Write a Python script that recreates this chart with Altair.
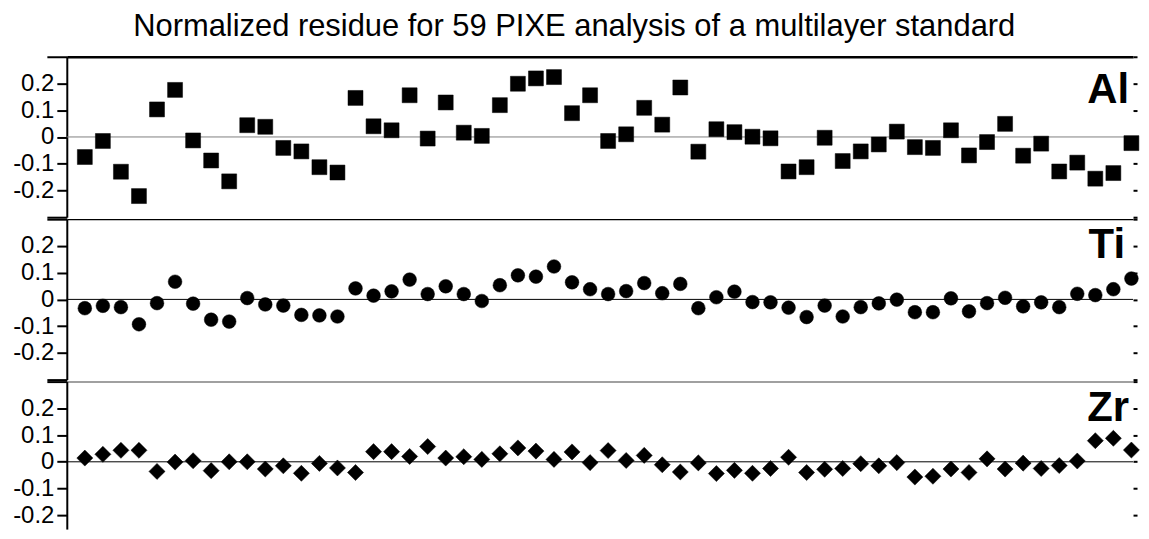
import altair as alt
import pandas as pd

idx = list(range(1, 60))

al = [-0.075, -0.015, -0.13, -0.221, 0.103, 0.176, -0.013, -0.088, -0.166, 0.044,
      0.038, -0.041, -0.054, -0.113, -0.133, 0.146, 0.04, 0.025, 0.156, -0.006,
      0.129, 0.016, 0.004, 0.119, 0.199, 0.219, 0.224, 0.089, 0.156, -0.015,
      0.01, 0.109, 0.046, 0.185, -0.055, 0.029, 0.018, 0.001, -0.005, -0.129,
      -0.113, -0.003, -0.09, -0.054, -0.028, 0.02, -0.038, -0.041, 0.025, -0.069,
      -0.019, 0.049, -0.07, -0.025, -0.129, -0.096, -0.156, -0.135, -0.023]

ti = [-0.033, -0.024, -0.029, -0.093, -0.014, 0.066, -0.016, -0.076, -0.083, 0.005,
      -0.019, -0.023, -0.058, -0.06, -0.064, 0.041, 0.014, 0.03, 0.074, 0.02,
      0.049, 0.02, -0.006, 0.053, 0.09, 0.085, 0.123, 0.064, 0.038, 0.02,
      0.031, 0.061, 0.023, 0.058, -0.033, 0.008, 0.029, -0.01, -0.011, -0.031,
      -0.066, -0.023, -0.064, -0.029, -0.015, -0.001, -0.048, -0.048, 0.004, -0.045,
      -0.014, 0.006, -0.026, -0.011, -0.029, 0.021, 0.016, 0.038, 0.078]

zr = [0.014, 0.028, 0.043, 0.043, -0.036, -0.001, 0.004, -0.033, 0.0, 0.0,
      -0.027, -0.015, -0.043, -0.006, -0.023, -0.04, 0.038, 0.038, 0.02, 0.057,
      0.014, 0.019, 0.009, 0.03, 0.052, 0.04, 0.009, 0.037, -0.003, 0.042,
      0.005, 0.024, -0.011, -0.038, -0.004, -0.044, -0.032, -0.043, -0.025, 0.017,
      -0.04, -0.028, -0.025, -0.007, -0.015, -0.003, -0.057, -0.054, -0.027, -0.04,
      0.011, -0.027, -0.005, -0.025, -0.014, 0.003, 0.079, 0.088, 0.044]

elements = ["Al", "Ti", "Zr"]
tick_values = [-0.3, -0.2, -0.1, 0, 0.1, 0.2, 0.3]

W = 1070
H = 161
H3 = 148
FONT = "Liberation Sans"

xscale = alt.Scale(domain=[0, 59.09], nice=False, zero=False)


def panel(values, label, shape, size, lx, ly, top_width, top_color, zero_color,
          height=H, ymin=-0.3):
    yscale = alt.Scale(domain=[ymin, 0.3], nice=False, zero=False)
    tv = [t for t in tick_values if t >= ymin - 1e-9]
    df = pd.DataFrame({"n": idx, "v": values})
    points = alt.Chart(df).mark_point(
        shape=shape, filled=True, size=size, color="black", opacity=1,
        stroke="black", strokeWidth=0.5
    ).encode(
        x=alt.X("n:Q", scale=xscale,
                axis=alt.Axis(orient="top", labels=False, ticks=False, grid=False,
                              title=None, domainColor=top_color, domainWidth=top_width,
                              minExtent=0, maxExtent=0)),
        y=alt.Y("v:Q", scale=yscale,
                axis=alt.Axis(orient="left", values=tv, title=None, grid=False,
                              labelExpr="abs(datum.value) > 0.25 ? '' : toString(datum.value)",
                              labelFont=FONT, labelFontSize=24, labelColor="black",
                              labelPadding=3,
                              domainColor="black", domainWidth=2,
                              tickColor="black", tickWidth=2,
                              tickSize={"condition": {"test": "abs(datum.value) > 0.25", "value": 20},
                                        "value": 10},
                              minExtent=59, maxExtent=59)),
    )
    zero = alt.Chart(pd.DataFrame({"z": [0]})).mark_rule(
        color=zero_color, strokeWidth=1
    ).encode(
        y=alt.Y("z:Q", scale=yscale,
                axis=alt.Axis(orient="right", values=tv, labels=False, title=None,
                              grid=False, domain=False, tickColor="black", tickWidth=2,
                              tickSize=4, minExtent=4, maxExtent=4))
    )
    text = alt.Chart(pd.DataFrame({"label": [label]})).mark_text(
        align="right", baseline="alphabetic", font=FONT, fontSize=42,
        fontWeight="bold", color="black"
    ).encode(text="label:N", x=alt.value(lx), y=alt.value(ly))
    return alt.layer(zero, points, text).resolve_scale(y="independent").properties(
        width=W, height=height)


p1 = panel(al, elements[0], "square", 225, 1066, 46, 2.5, "black", "#808080")
p2 = panel(ti, elements[1], "circle", 190, 1062, 39, 1.2, "black", "black")
p3 = panel(zr, elements[2], "diamond", 260, 1066, 40, 1.5, "#808080", "black",
           height=H3, ymin=-0.2516)

chart = alt.vconcat(p1, p2, p3, spacing=0).properties(
    title=alt.TitleParams(
        "Normalized residue for 59 PIXE analysis of a multilayer standard",
        font=FONT, fontSize=31, fontWeight="normal", color="black",
        anchor="middle", offset=13),
    padding={"top": 2, "left": 0, "right": 0, "bottom": 0},
).configure_view(stroke=None).configure_concat(spacing=0)

chart.save("out.html", embed_options={"renderer": "svg", "actions": False})
